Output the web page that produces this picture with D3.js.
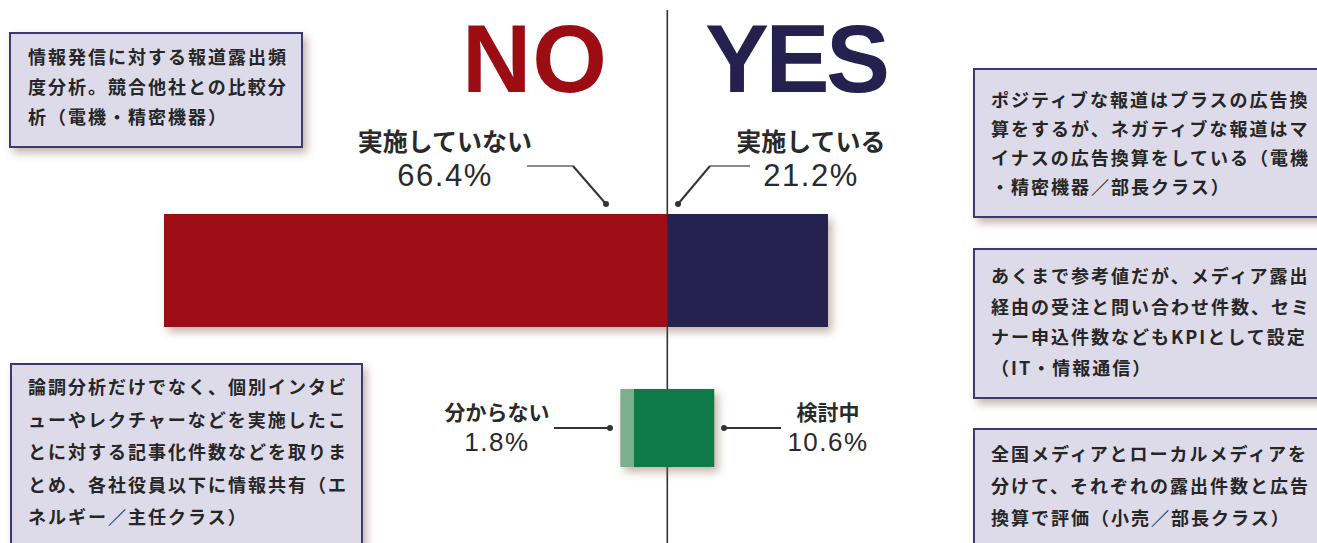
<!DOCTYPE html>
<html><head><meta charset="utf-8">
<script src="https://cdn.jsdelivr.net/npm/d3@7"></script>
<style>
html,body{margin:0;padding:0;background:#fff;}
svg{display:block;}
</style></head>
<body>
<script>
// ---- data ----
const mainCategories = ["実施していない", "実施している"];
const mainValues = [66.4, 21.2];
const subCategories = ["分からない", "検討中"];
const subValues = [1.8, 10.6];
const headings = ["NO", "YES"];
const noteBox1 = ["情報発信に対する報道露出頻", "度分析。競合他社との比較分", "析（電機・精密機器）"];
const noteBox2 = ["ポジティブな報道はプラスの広告換", "算をするが、ネガティブな報道はマ", "イナスの広告換算をしている（電機", "・精密機器／部長クラス）"];
const noteBox3 = ["あくまで参考値だが、メディア露出", "経由の受注と問い合わせ件数、セミ", "ナー申込件数などもKPIとして設定", "（IT・情報通信）"];
const noteBox4 = ["全国メディアとローカルメディアを", "分けて、それぞれの露出件数と広告", "換算で評価（小売／部長クラス）"];
const noteBox5 = ["論調分析だけでなく、個別インタビ", "ューやレクチャーなどを実施したこ", "とに対する記事化件数などを取りま", "とめ、各社役員以下に情報共有（エ", "ネルギー／主任クラス）"];

const W = 1317, H = 543;
const svg = d3.select("body").append("svg").attr("width", W).attr("height", H);
const defs = svg.append("defs");
const f = defs.append("filter").attr("id", "sh").attr("x", "-10%").attr("y", "-10%").attr("width", "130%").attr("height", "140%");
f.append("feDropShadow").attr("dx", 4).attr("dy", 5).attr("stdDeviation", 4)
  .attr("flood-color", "#7a5a4a").attr("flood-opacity", 0.45);

const jp = "'Noto Sans CJK JP', 'Noto Sans', sans-serif";
const lat = "'Liberation Sans', Arial, sans-serif";

// scale: negative = NO side, positive = YES side
const x = d3.scaleLinear().domain([-mainValues[0], mainValues[1]]).range([164, 828]);
const x0 = x(0);

// center line
svg.append("line").attr("x1", x0).attr("x2", x0).attr("y1", 10).attr("y2", H)
  .attr("stroke", "#333").attr("stroke-width", 1.6);

// headings (letter-spacing tuned so the width matches)
function heading(txt, hx, target, color) {
  const t = svg.append("text").attr("x", hx).attr("y", 92).text(txt)
    .attr("font-family", lat).attr("font-weight", 700).attr("font-size", 96)
    .attr("fill", color);
  const nat = t.node().getComputedTextLength();
  const ls = (target - nat) / Math.max(1, txt.length - 1);
  t.attr("letter-spacing", ls.toFixed(2));
}
heading(headings[0], 462, 145, "#9c0c13");
heading(headings[1], 705, 185, "#26204f");

// main bar
const mainData = [
  {cat: mainCategories[0], v: mainValues[0], x1: x(-mainValues[0]), x2: x0, color: "#9c0c13"},
  {cat: mainCategories[1], v: mainValues[1], x1: x0, x2: x(mainValues[1]), color: "#26204f"}
];
const gMain = svg.append("g").attr("filter", "url(#sh)");
gMain.selectAll("rect").data(mainData).join("rect")
  .attr("x", d => d.x1).attr("width", d => d.x2 - d.x1)
  .attr("y", 214).attr("height", 113).attr("fill", d => d.color);

// sub bar (green, centered on zero)
const subTotal = subValues[0] + subValues[1];
const s0 = -subTotal / 2;
const subData = [
  {cat: subCategories[0], x1: x(s0), x2: x(s0 + subValues[0]), color: "#7dae8e"},
  {cat: subCategories[1], x1: x(s0 + subValues[0]), x2: x(s0 + subTotal), color: "#0d7a46"}
];
const gSub = svg.append("g").attr("filter", "url(#sh)");
gSub.selectAll("rect").data(subData).join("rect")
  .attr("x", d => d.x1).attr("width", d => d.x2 - d.x1)
  .attr("y", 389).attr("height", 78).attr("fill", d => d.color);

// labels
function label(cx, y1, y2, name, val, fs1, fs2) {
  svg.append("text").attr("x", cx).attr("y", y1).attr("text-anchor", "middle")
    .attr("font-family", jp).attr("font-weight", 700).attr("font-size", fs1)
    .attr("fill", "#2a2a2a").text(name);
  svg.append("text").attr("x", cx).attr("y", y2).attr("text-anchor", "middle")
    .attr("font-family", lat).attr("font-size", fs2).attr("letter-spacing", 1.5)
    .attr("fill", "#2a2a2a").text(val + "%");
}
label(445, 151, 186, mainCategories[0], mainValues[0], 25, 31);
label(811, 151, 186, mainCategories[1], mainValues[1], 25, 31);
label(497, 420, 451, subCategories[0], subValues[0], 21, 26);
label(828, 420, 451, subCategories[1], subValues[1], 21, 26);

// leader lines
function leader(pts, grayIdx) {
  for (let i = 0; i < pts.length - 1; i++) {
    svg.append("line").attr("x1", pts[i][0]).attr("y1", pts[i][1])
      .attr("x2", pts[i+1][0]).attr("y2", pts[i+1][1])
      .attr("stroke", i === grayIdx ? "#8a8a8a" : "#333").attr("stroke-width", 2);
  }
  const e = pts[pts.length - 1];
  svg.append("circle").attr("cx", e[0]).attr("cy", e[1]).attr("r", 3).attr("fill", "#333");
}
leader([[527, 166], [573, 166], [606, 204]], 0);
leader([[750, 166], [710, 166], [678, 204]], 0);
leader([[554, 428], [610, 428]], -1);
leader([[781, 428], [724, 428]], -1);

// note boxes
function noteBox(bx, by, bw, bh, lines, tx, ty0, dy) {
  const g = svg.append("g");
  g.append("rect").attr("x", bx).attr("y", by).attr("width", bw).attr("height", bh)
    .attr("fill", "#dddbea").attr("stroke", "#3b3872").attr("stroke-width", 2)
    .attr("filter", "url(#sh)");
  g.selectAll("text").data(lines).join("text")
    .attr("x", tx).attr("y", (d, i) => ty0 + i * dy).attr("dy", "0.35em")
    .attr("font-family", jp).attr("font-weight", 700).attr("font-size", 18)
    .attr("letter-spacing", 2).attr("fill", "#262626").text(d => d);
}
noteBox(10, 33, 292, 114, noteBox1, 28, 58, 30);
noteBox(974, 69, 360, 148, noteBox2, 991, 101, 29);
noteBox(974, 249, 360, 149, noteBox3, 991, 277, 30.5);
noteBox(974, 429, 360, 140, noteBox4, 991, 455, 32);
noteBox(11, 364, 351, 200, noteBox5, 28, 388, 32.5);
</script>
</body></html>
